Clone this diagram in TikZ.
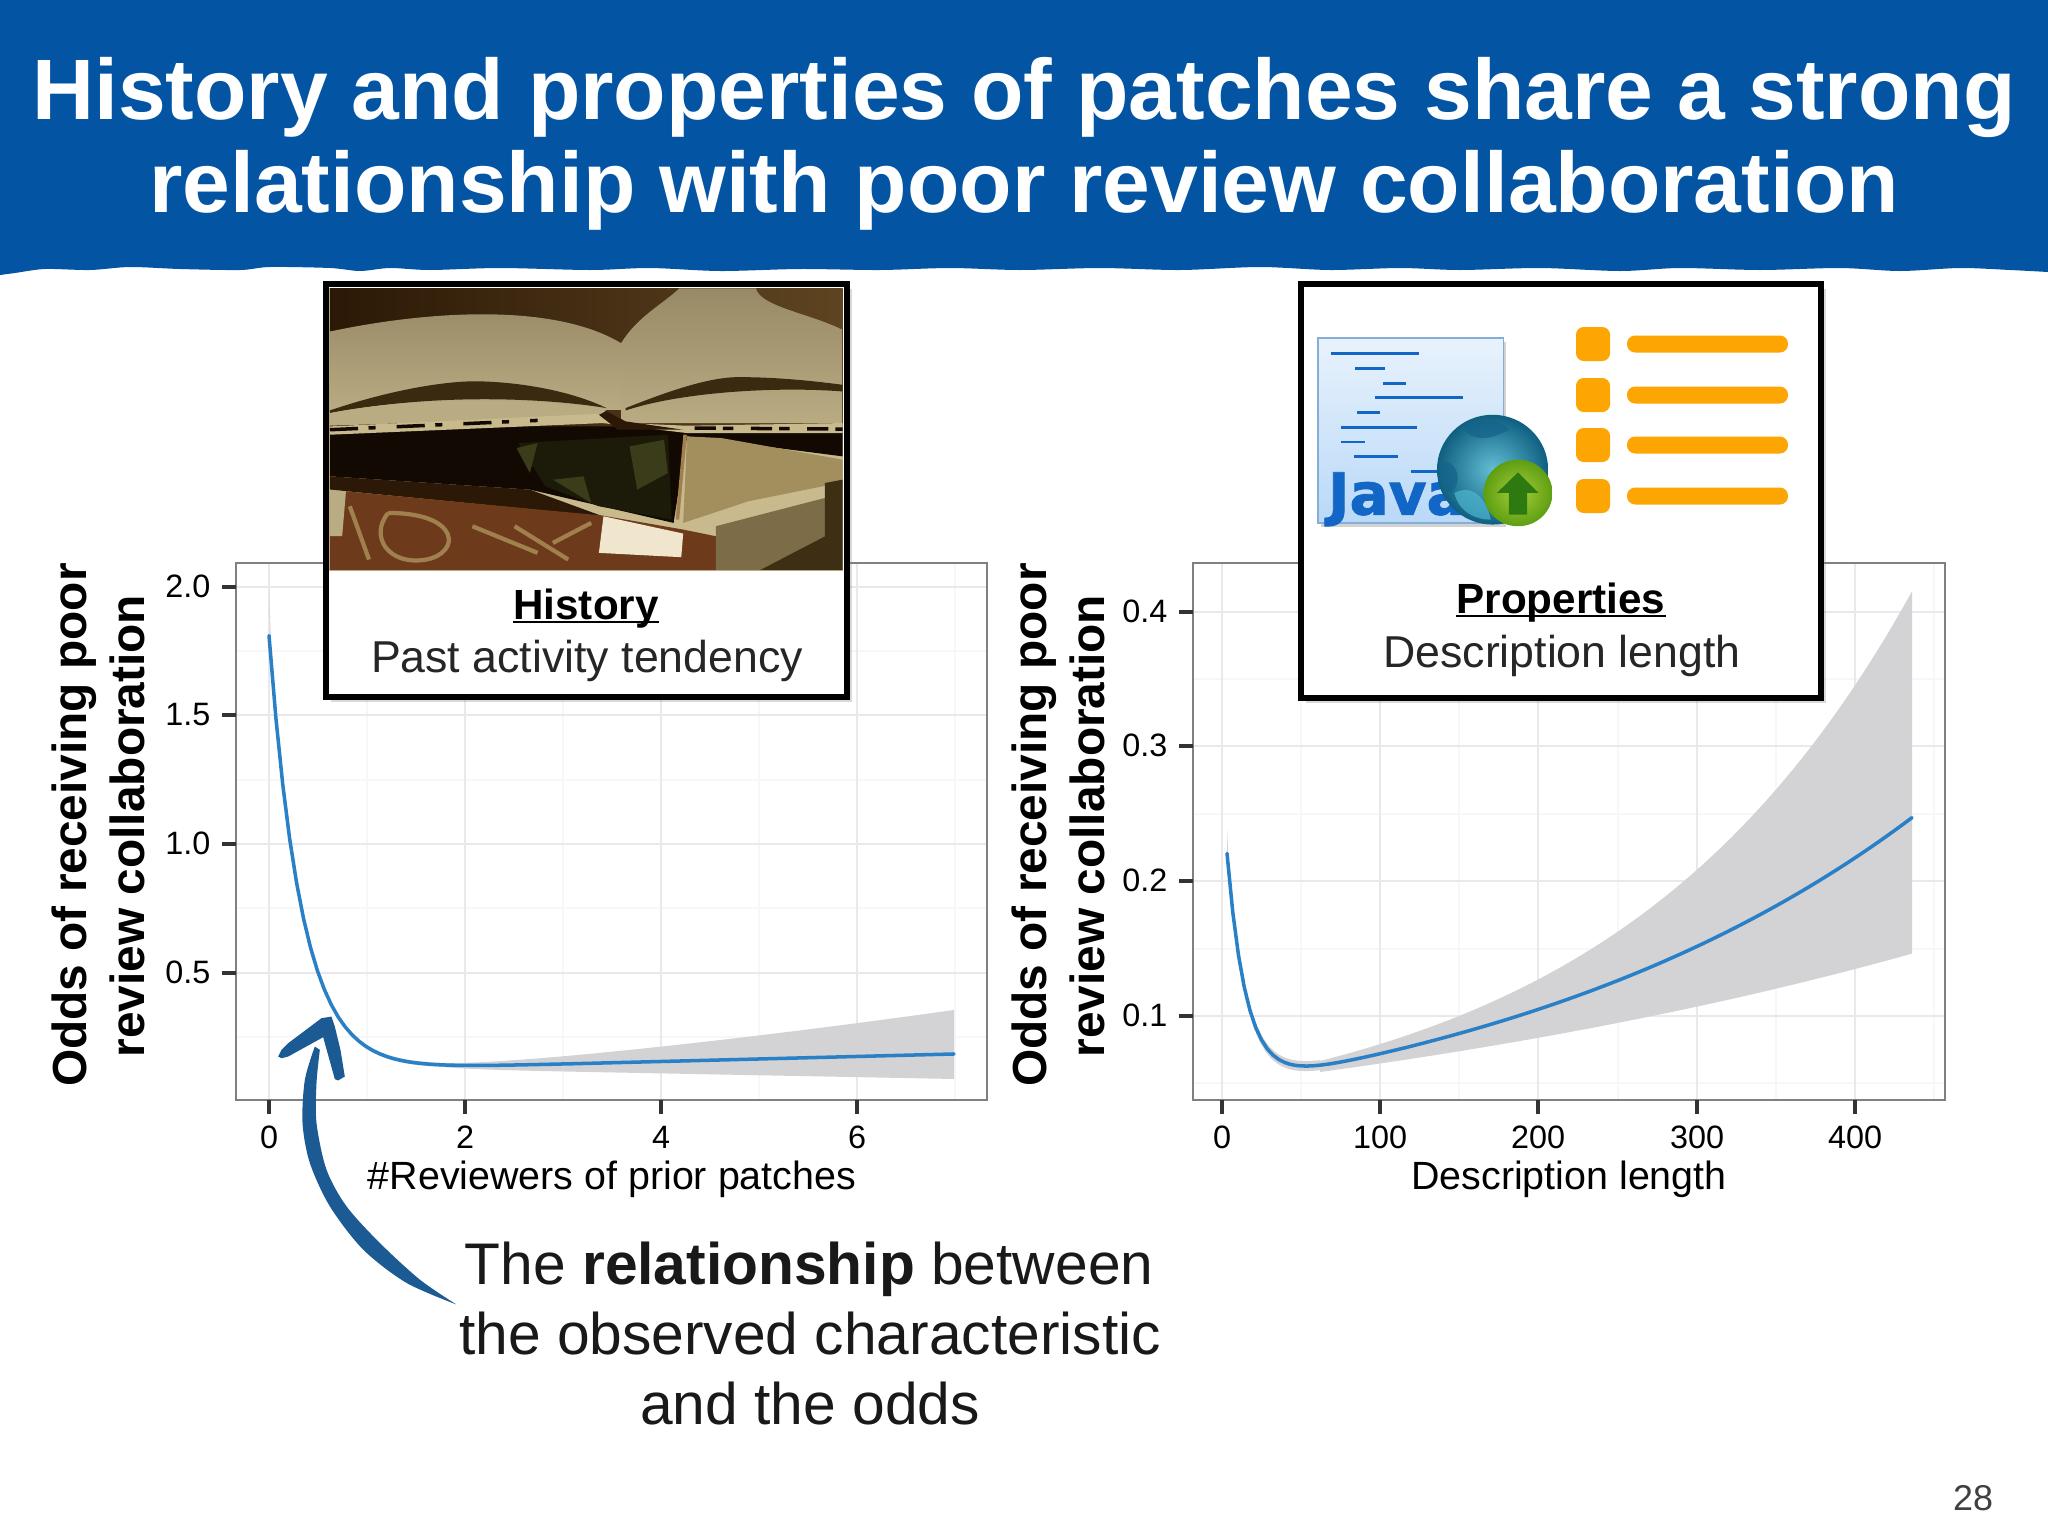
\documentclass[tikz,border=0pt]{standalone}
\usepackage{fontspec}
\setmainfont{Liberation Sans}
\newfontfamily\javafont[BoldFont={DejaVu Sans Bold}, BoldFeatures={FakeBold=1.5}]{DejaVu Sans}
\usetikzlibrary{shadows}
\definecolor{bandblue}{HTML}{0354A3}
\definecolor{arrowblue}{HTML}{1B5A92}
\definecolor{curveblue}{HTML}{2A80C6}
\definecolor{ribbongray}{HTML}{D3D2D4}
\definecolor{gridmajor}{HTML}{EAE8ED}
\definecolor{gridminor}{HTML}{F7F6F8}
\definecolor{listorange}{HTML}{FDA502}
\definecolor{codeblue}{HTML}{1166C6}
\definecolor{bookdark}{HTML}{120A02}
\definecolor{bookshade}{HTML}{2B1806}
\definecolor{bookback}{HTML}{5E4420}
\definecolor{pagetop}{HTML}{A39673}
\definecolor{pagelow}{HTML}{B9AB82}
\definecolor{pagegap}{HTML}{3A2A10}
\definecolor{coveredge}{HTML}{C9BA8E}
\definecolor{spinegreen}{HTML}{1C1A08}
\definecolor{spinespot}{HTML}{3A3C1A}
\definecolor{midpage}{HTML}{A38E5E}
\definecolor{redbook}{HTML}{6E3A1C}
\definecolor{goldmark}{HTML}{A0814E}
\definecolor{labelpaper}{HTML}{F0E6CE}
\definecolor{lowpage}{HTML}{7C6C48}
\definecolor{lowback}{HTML}{3E2E14}
\definecolor{filetop}{HTML}{E8F2FC}
\definecolor{filelow}{HTML}{B9D9F8}
\definecolor{fileedge}{HTML}{86ADD2}
\definecolor{globein}{HTML}{62BFD4}
\definecolor{globeout}{HTML}{0F5F80}
\definecolor{landdark}{HTML}{14648A}
\definecolor{landlight}{HTML}{4FB6CF}
\definecolor{buttonin}{HTML}{A6CE39}
\definecolor{buttonout}{HTML}{5E9E12}
\definecolor{buttonarrow}{HTML}{2F7A10}
\tikzset{declare function={
    lefty(\x) = 1066.5 - 0.0256*(\x-465) - 436*exp(-0.0305*(\x-269));
    righty(\x) = 1100 + 61.5 - 94.5*exp(0.00218*(\x-1320)) - 231*exp(-0.052*(\x-1227));
}}
\tikzset{gridline/.style={gridmajor, line width=0.5pt}}
\tikzset{gridfine/.style={gridminor, line width=0.4pt}}
\tikzset{ribbon/.style={fill=ribbongray, draw=none}}
\tikzset{curve/.style={curveblue, line width=1pt, line cap=round}}
\tikzset{panel/.style={draw=black!50, line width=0.8pt}}
\tikzset{tickmark/.style={black!80, line width=0.9pt}}
\tikzset{ticklabel/.style={inner sep=0pt, font=\fontsize{9.2}{10}\selectfont}}
\tikzset{axislabel/.style={inner sep=0pt, anchor=base, font=\fontsize{11.2}{13}\selectfont}}
\tikzset{oddslabel/.style={inner sep=0pt, anchor=base, rotate=90, font=\bfseries\fontsize{13.6}{16}\selectfont}}
\tikzset{titleline/.style={inner sep=0pt, anchor=base, white, font=\bfseries\fontsize{24.4}{28}\selectfont}}
\tikzset{notetext/.style={inner sep=0pt, anchor=base, black!90, font=\fontsize{16.7}{18}\selectfont}}
\tikzset{cardhead/.style={inner sep=0pt, anchor=base, font=\bfseries\fontsize{12}{14}\selectfont}}
\tikzset{cardtext/.style={inner sep=0pt, anchor=base, black!85, font=\fontsize{12.7}{14}\selectfont}}
\tikzset{cardframe/.style={draw=black, fill=white, line width=1.7pt, drop shadow={shadow xshift=1.5pt, shadow yshift=-1.5pt, opacity=0.3}}}
\tikzset{headrule/.style={black, line width=0.6pt}}
\begin{document}
\begin{tikzpicture}[x=0.01cm, y=-0.01cm]
    \useasboundingbox (0, 0) rectangle (2048, 1536);
    % title band
    \fill[bandblue] (0, 0) -- (2048, 0) -- (2048, 272) -- plot[smooth, tension=0.5] coordinates {(2048, 272) (2010, 270) (1960, 268) (1900, 271) (1840, 268) (1760, 270) (1680, 268) (1620, 271) (1540, 268) (1460, 270) (1400, 268) (1330, 270) (1260, 267) (1180, 270) (1100, 268) (1020, 270) (950, 268) (880, 270) (800, 269) (720, 271) (650, 268) (590, 270) (500, 268) (430, 270) (390, 268) (360, 271) (330, 268) (270, 267) (240, 270) (180, 269) (130, 267) (90, 270) (45, 269) (15, 273) (0, 275)} -- cycle;
    \node[titleline] (titleone) at (1024, 119) {History and properties of patches share a strong};
    \node[titleline] (titletwo) at (1024, 212) {relationship with poor review collaboration};

    % left plot
    \foreach \xpos in {367, 563, 759, 955} \draw[gridfine] (\xpos, 563) -- (\xpos, 1100);
    \foreach \ypos in {651, 780, 908, 1037} \draw[gridfine] (236, \ypos) -- (987, \ypos);
    \foreach \xpos in {269, 465, 661, 857} \draw[gridline] (\xpos, 563) -- (\xpos, 1100);
    \foreach \ypos in {587, 715, 844, 973} \draw[gridline] (236, \ypos) -- (987, \ypos);
    \fill[ribbon] (269, 587) -- plot[domain=272:954, samples=90] (\x, {lefty(\x) - 2 - 42*(max(\x-440,1)/514)^1.4}) -- plot[domain=954:270, samples=90] (\x, {lefty(\x) + 2 + 23*(max(\x-440,0)/514)}) -- cycle;
    \draw[curve] plot[domain=269:954, samples=100] (\x, {lefty(\x)});
    \draw[panel] (236, 563) rectangle (987, 1100);
    \foreach \xpos/\xlab in {269/0, 465/2, 661/4, 857/6} {
        \draw[tickmark] (\xpos, 1100) -- (\xpos, 1114);
        \node[ticklabel, anchor=base] (leftx\xlab) at (\xpos, 1148) {\xlab};
    }
    \foreach \ypos/\ylab/\yname in {587/2.0/a, 715/1.5/b, 844/1.0/c, 973/0.5/d} {
        \draw[tickmark] (222, \ypos) -- (236, \ypos);
        \node[ticklabel, anchor=mid east] (lefty\yname) at (211, \ypos+1) {\ylab};
    }
    \node[axislabel] (leftxlabel) at (612, 1189) {\#Reviewers of prior patches};
    \node[oddslabel] (leftoddsone) at (86, 825) {Odds of receiving poor};
    \node[oddslabel] (leftoddstwo) at (144, 826) {review collaboration};

    % right plot
    \foreach \xpos in {1301, 1459, 1618, 1776, 1934} \draw[gridfine] (\xpos, 563) -- (\xpos, 1100);
    \foreach \ypos in {679, 814, 949, 1083} \draw[gridfine] (1193, \ypos) -- (1945, \ypos);
    \foreach \xpos in {1222, 1380, 1538, 1697, 1855} \draw[gridline] (\xpos, 563) -- (\xpos, 1100);
    \foreach \ypos in {612, 746, 881, 1016} \draw[gridline] (1193, \ypos) -- (1945, \ypos);
    \fill[ribbon] (1227, 828) -- plot[domain=1229:1320, samples=40] (\x, {righty(\x) - 5}) -- plot[domain=1320:1912, samples=60] (\x, {1100 + 38 - 77*exp(0.00331*(\x-1320))}) -- plot[domain=1912:1320, samples=60] (\x, {1100 + 85.7 - 113.7*exp(0.00121*(\x-1320))}) -- plot[domain=1320:1229, samples=40] (\x, {righty(\x) + 5}) -- (1227, 871) -- cycle;
    \draw[curve] plot[domain=1227:1912, samples=120] (\x, {righty(\x)});
    \draw[panel] (1193, 563) rectangle (1945, 1100);
    \foreach \xpos/\xlab in {1222/0, 1380/100, 1538/200, 1697/300, 1855/400} {
        \draw[tickmark] (\xpos, 1100) -- (\xpos, 1114);
        \node[ticklabel, anchor=base] (rightx\xlab) at (\xpos, 1148) {\xlab};
    }
    \foreach \ypos/\ylab/\yname in {612/0.4/a, 746/0.3/b, 881/0.2/c, 1016/0.1/d} {
        \draw[tickmark] (1179, \ypos) -- (1193, \ypos);
        \node[ticklabel, anchor=mid east] (righty\yname) at (1168, \ypos+1) {\ylab};
    }
    \node[axislabel] (rightxlabel) at (1569, 1189) {Description length};
    \node[oddslabel] (rightoddsone) at (1046, 825) {Odds of receiving poor};
    \node[oddslabel] (rightoddstwo) at (1104, 826) {review collaboration};

    % history card
    \draw[cardframe] (326, 284) rectangle (847, 697);
    \begin{scope}[shift={(300, 260)}, x=0.003827cm, y=-0.003333cm]
        \fill[coveredge] (76, 83) rectangle (1418, 934);
        \begin{scope}
            \clip (78, 85) rectangle (1416, 932);
            \shade[left color=bookshade, right color=bookback] (78, 85) rectangle (1416, 500);
            % open pages
            \shade[top color=pagetop!85!bookback, bottom color=pagelow] (78, 215) .. controls (300, 160) and (650, 120) .. (838, 250) -- (838, 450) -- (78, 460) -- cycle;
            \shade[top color=pagetop!85!bookback, bottom color=pagelow] (838, 250) .. controls (880, 170) and (950, 130) .. (990, 85) -- (1190, 85) .. controls (1200, 140) and (1330, 160) .. (1416, 210) -- (1416, 490) -- (838, 490) -- cycle;
            \fill[pagegap] (78, 452) .. controls (250, 385) and (400, 360) .. (480, 365) .. controls (600, 370) and (720, 400) .. (800, 445) .. controls (700, 425) and (400, 390) .. (78, 460) -- cycle;
            \fill[pagegap] (850, 445) .. controls (980, 385) and (1080, 350) .. (1150, 352) .. controls (1250, 352) and (1350, 365) .. (1416, 375) -- (1416, 395) .. controls (1250, 380) and (1000, 395) .. (850, 452) -- cycle;
            \fill[pagelow] (78, 460) .. controls (300, 410) and (600, 415) .. (800, 450) -- (780, 470) -- (78, 498) -- cycle;
            % dark gap and middle book
            \fill[bookdark] (78, 500) -- (1416, 500) -- (1416, 590) -- (1010, 530) -- (975, 790) -- (600, 690) -- (78, 650) -- cycle;
            \fill[spinegreen] (570, 550) -- (960, 525) -- (970, 780) -- (780, 740) -- (640, 680) -- cycle;
            \fill[spinespot] (565, 565) -- (620, 550) -- (600, 640) -- cycle;
            \fill[spinespot] (860, 560) -- (950, 540) -- (960, 640) -- (880, 690) -- cycle;
            \fill[spinespot] (660, 660) -- (740, 650) -- (760, 730) -- cycle;
            \fill[midpage] (1010, 530) -- (1100, 535) -- (1416, 600) -- (1416, 668) -- (1170, 725) -- (1000, 790) -- cycle;
            \draw[goldmark, line width=1pt] (1005, 525) -- (985, 780);
            % bottom book
            \fill[bookshade] (78, 650) -- (600, 690) -- (790, 770) -- (78, 690) -- cycle;
            \fill[redbook] (78, 690) -- (120, 695) -- (790, 768) -- (1000, 810) -- (1085, 830) -- (1085, 932) -- (78, 932) -- cycle;
            \fill[pagelow] (78, 690) -- (120, 695) -- (110, 830) -- (78, 830) -- cycle;
            \draw[goldmark, line width=1.2pt] (130, 740) -- (180, 900) (230, 760) .. controls (180, 830) and (230, 920) .. (330, 900) .. controls (420, 880) and (420, 760) .. (230, 760) (450, 800) -- (620, 880) (560, 800) -- (700, 900) (660, 850) -- (760, 790);
            \fill[labelpaper] (792, 770) -- (1000, 822) -- (995, 893) -- (780, 880) -- cycle;
            \fill[lowpage] (1085, 800) -- (1370, 715) -- (1370, 830) -- (1200, 932) -- (1085, 932) -- cycle;
            \fill[lowback] (1370, 670) -- (1416, 660) -- (1416, 932) -- (1200, 932) -- (1370, 830) -- cycle;
            % worn edge of the cover
            \fill[coveredge] (78, 500) -- (780, 462) -- (850, 490) -- (1010, 498) -- (1416, 490) -- (1416, 520) -- (1010, 520) -- (790, 490) -- (78, 525) -- cycle;
            \draw[bookdark, line width=1pt, dash pattern=on 8pt off 3pt on 2pt off 6pt] (78, 510) -- (620, 482);
            \draw[bookdark, line width=1pt, dash pattern=on 6pt off 2pt on 3pt off 5pt] (1030, 505) -- (1416, 508);
            \fill[bookshade] (780, 465) -- (800, 455) -- (850, 485) -- (1000, 510) -- (830, 510) -- cycle;
        \end{scope}
    \end{scope}
    \draw[black, line width=1.7pt] (326, 284) rectangle (847, 697);
    \node[cardhead] (historyhead) at (586, 619) {History};
    \draw[headrule] ([yshift=-0.9pt]historyhead.base west) -- ([yshift=-0.9pt]historyhead.base east);
    \node[cardtext] (historytext) at (587, 672) {Past activity tendency};

    % properties card
    \draw[cardframe] (1301, 284) rectangle (1821, 698);
    \begin{scope}[shift={(1280, 260)}, x=0.003635cm, y=-0.003333cm]
        \fill[black!35, opacity=0.5] (112, 245) rectangle (622, 802);
        \shade[top color=filetop, bottom color=filelow, draw=fileedge, line width=0.5pt] (105, 235) rectangle (615, 790);
        \foreach \ypos/\xstart/\xend in {282/140/382, 326/207/288, 370/284/347, 414/262/503, 459/212/275, 503/168/378, 547/168/235, 591/204/325, 635/360/440}
            \draw[codeblue, line width=0.8pt] (\xstart, \ypos) -- (\xend, \ypos);
        \node[inner sep=0pt, anchor=base west, codeblue, font=\javafont\bfseries\fontsize{16.5}{18}\selectfont] (javaword) at (130, 765) {Java};
        \shade[inner color=globein, outer color=globeout] (585, 630) ellipse (153 and 165);
        \fill[landdark, opacity=0.75] (500, 500) .. controls (540, 480) and (600, 470) .. (630, 510) .. controls (580, 540) and (530, 550) .. (500, 500) -- cycle;
        \fill[landdark, opacity=0.75] (440, 610) .. controls (480, 590) and (510, 660) .. (470, 700) .. controls (450, 690) and (435, 650) .. (440, 610) -- cycle;
        \fill[landlight, opacity=0.7] (480, 700) .. controls (530, 670) and (570, 720) .. (580, 780) .. controls (530, 780) and (490, 750) .. (480, 700) -- cycle;
        \shade[inner color=buttonin, outer color=buttonout] (655, 700) ellipse (95 and 100);
        \fill[buttonarrow] (655, 638) -- (712, 700) -- (680, 700) -- (680, 765) -- (630, 765) -- (630, 700) -- (597, 700) -- cycle;
    \end{scope}
    \foreach \ypos in {344, 395, 445, 496} {
        \fill[listorange, rounded corners=2.2pt] (1576, \ypos-17) rectangle (1610, \ypos+17);
        \fill[listorange, rounded corners=2.3pt] (1627, \ypos-8.5) rectangle (1788, \ypos+8.5);
    }
    \draw[black, line width=1.7pt] (1301, 284) rectangle (1821, 698);
    \node[cardhead] (propertieshead) at (1561, 613) {Properties};
    \draw[headrule] ([yshift=-0.9pt]propertieshead.base west) -- ([yshift=-0.9pt]propertieshead.base east);
    \node[cardtext] (propertiestext) at (1562, 667) {Description length};

    % note and its arrow
    \node[notetext] (noteone) at (809, 1284) {The \textbf{relationship} between};
    \node[notetext] (notetwo) at (810, 1354) {the observed characteristic};
    \node[notetext] (notethree) at (810, 1424) {and the odds};
    \begin{scope}[shift={(220, 950)}, x=0.003333cm, y=-0.003333cm]
        \fill[arrowblue] plot[smooth] coordinates {(710, 1065) (560, 1000) (430, 900) (330, 770) (270, 640) (248, 520) (255, 390) (285, 290)} -- plot[smooth] coordinates {(300, 300) (290, 400) (290, 520) (320, 660) (380, 770) (480, 880) (600, 990) (710, 1065)} -- cycle;
        \fill[arrowblue] (175, 320) -- (185, 300) -- (205, 280) -- (305, 205) -- (335, 200) -- (345, 230) -- (362, 300) -- (375, 380) -- (355, 392) -- (345, 388) -- (310, 262) -- (205, 320) -- (185, 325) -- cycle;
    \end{scope}
    \node[inner sep=0pt, anchor=base, black!75, font=\fontsize{10.2}{12}\selectfont] (pagenum) at (1973, 1510) {28};
\end{tikzpicture}
\end{document}
